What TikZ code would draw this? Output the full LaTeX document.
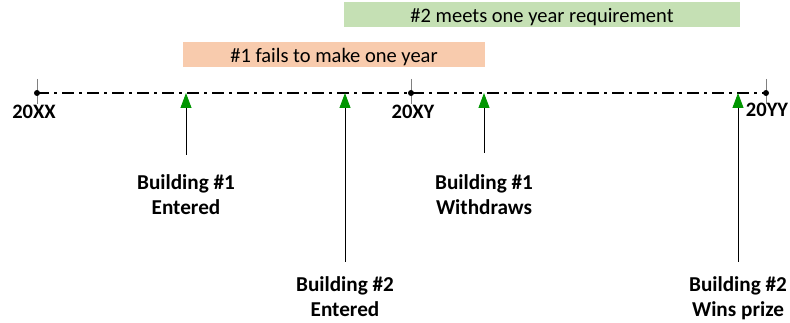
\documentclass[tikz,border=0pt]{standalone}
\usepackage{fontspec}
\setmainfont{Carlito}
\usetikzlibrary{arrows.meta}
\definecolor{bargreen}{RGB}{197,224,180}
\definecolor{barorange}{RGB}{248,203,173}
\definecolor{arrgreen}{RGB}{0,150,0}
\begin{document}
\begin{tikzpicture}[x=1pt,y=-1pt,
  bar/.style={minimum height=25pt, inner sep=0pt, font=\fontsize{20.5}{24}\selectfont},
  bartext/.style={inner sep=0pt, font=\fontsize{20.5}{24}\selectfont},
  year/.style={font=\bfseries\fontsize{20.5}{24}\selectfont, anchor=base, inner sep=0pt},
  lab/.style={font=\bfseries\fontsize{21.2}{25.5}\selectfont, align=center, anchor=north, inner sep=0pt},
  arr/.style={line width=0.9pt, -{Triangle[length=15pt,width=11pt,color=arrgreen]}},
  tickline/.style={gray, line width=0.8pt},
  dot/.style={circle, fill=black, inner sep=0pt, minimum size=6pt},
  timeline/.style={line width=1.3pt, dash pattern=on 12pt off 5pt on 3pt off 5pt}]
\useasboundingbox (0,0) rectangle (790,323);
% bars
\node[bar, fill=bargreen, minimum width=396pt] (g) at (542,15) {};
\node[bartext, anchor=base] (gt) at (542,23) {\#2 meets one year requirement};
\node[bar, fill=barorange, minimum width=302pt] (o) at (334,54.5) {};
\node[bartext, anchor=base] (ot) at (334,62.5) {\#1 fails to make one year};
% timeline
\coordinate (s) at (37,93);
\coordinate (m) at (411,93);
\coordinate (e) at (766,93);
\draw[tickline] (s) ++(0,-14) -- ++(0,25);
\draw[tickline] (m) ++(0,-14) -- ++(0,25);
\draw[tickline] (e) ++(0,-14) -- ++(0,25);
\draw[timeline] (s) -- (e);
\node[dot] (ds) at (s) {};
\node[dot] (dm) at (m) {};
\node[dot] (de) at (e) {};
% years
\node[year] (yxx) at (34,119) {20XX};
\node[year] (yxy) at (413,119) {20XY};
\node[year] (yyy) at (767,117) {20YY};
% event points
\coordinate (t1) at (186,93);
\coordinate (t2) at (345,93);
\coordinate (t3) at (484,93);
\coordinate (t4) at (738,93);
% labels
\node[lab] (l1) at (186,174) {Building \#1\\Entered};
\node[lab] (l2) at (345,276) {Building \#2\\Entered};
\node[lab] (l3) at (484,174) {Building \#1\\Withdraws};
\node[lab] (l4) at (738,276) {Building \#2\\Wins prize};
% arrows
\draw[arr, shorten <=19pt] (l1) -- (t1);
\draw[arr, shorten <=14pt] (l2) -- (t2);
\draw[arr, shorten <=21pt] (l3) -- (t3);
\draw[arr, shorten <=14pt] (l4) -- (t4);
\end{tikzpicture}
\end{document}
